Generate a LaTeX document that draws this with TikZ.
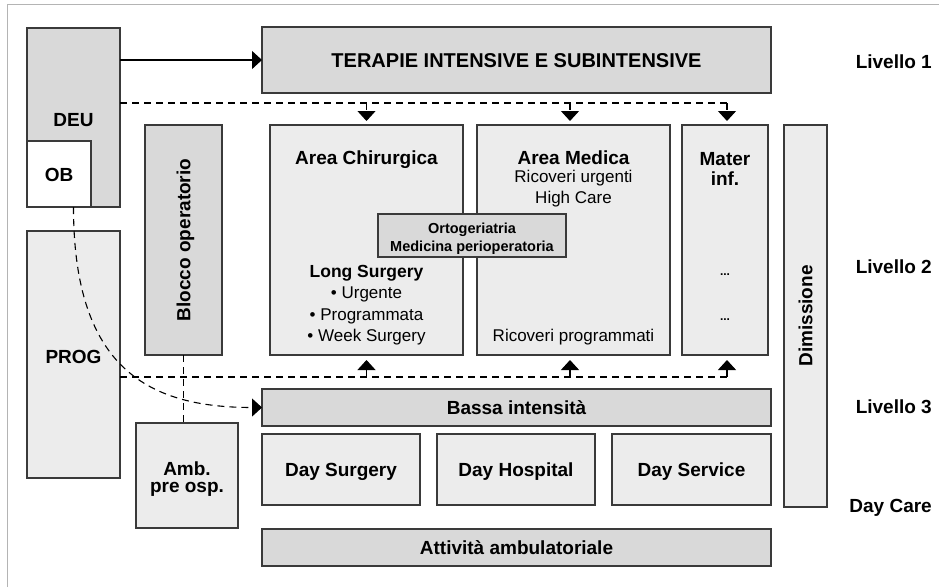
\documentclass[tikz,border=0pt]{standalone}
\usepackage{fontspec}
\setmainfont{Liberation Sans}
\usetikzlibrary{arrows.meta}
\definecolor{dk}{HTML}{D9D9D9}
\definecolor{lt}{HTML}{ECECEC}
\definecolor{ln}{HTML}{3A3A3A}
\definecolor{fr}{HTML}{B4B4B4}
\begin{document}
\begin{tikzpicture}[x=1pt,y=-1pt,
  box/.style={draw=ln,line width=1.2pt,inner sep=0pt,outer sep=0pt,anchor=north west},
  bl/.style={font=\fontsize{19}{22}\selectfont\bfseries,inner sep=0pt},
  bls/.style={font=\fontsize{17.5}{20}\selectfont\bfseries,inner sep=0pt},
  rl/.style={font=\fontsize{17}{20}\selectfont,inner sep=0pt},
  ol/.style={font=\fontsize{14.5}{17}\selectfont\bfseries,inner sep=0pt},
  ctr/.style={text height=13.6pt,text depth=0pt},
  dsh/.style={draw=black,line width=1.1pt,dash pattern=on 7pt off 5pt},
  tip/.style={-{Triangle[width=18pt,length=10pt]}},
  sol/.style={draw=black,line width=1.1pt}]
\useasboundingbox (0,0) rectangle (939,587);
\draw[fr,line width=1pt] (7,587) -- (7,4) -- (939,4);
% boxes
\node[box,fill=dk,minimum width=93pt,minimum height=179pt] (deu) at (27,28) {};
\node[box,fill=white,minimum width=64pt,minimum height=66pt] (ob) at (27,141) {};
\node[box,fill=lt,minimum width=93pt,minimum height=247pt] (prog) at (27,231) {};
\node[box,fill=dk,minimum width=77pt,minimum height=230pt] (blocco) at (145,125) {};
\node[box,fill=lt,minimum width=102pt,minimum height=105pt] (amb) at (136,423) {};
\node[box,fill=dk,minimum width=509pt,minimum height=66pt] (ter) at (262,27) {};
\node[box,fill=lt,minimum width=193pt,minimum height=230pt] (ac) at (270,125) {};
\node[box,fill=lt,minimum width=193pt,minimum height=230pt] (am) at (477,125) {};
\node[box,fill=lt,minimum width=86pt,minimum height=230pt] (mi) at (682,125) {};
\node[box,fill=lt,minimum width=43pt,minimum height=382pt] (dim) at (784,125) {};
\node[box,fill=dk,minimum width=188pt,minimum height=43pt] (orto) at (378,214) {};
\node[box,fill=dk,minimum width=509pt,minimum height=37pt] (bassa) at (262,389) {};
\node[box,fill=lt,minimum width=158pt,minimum height=71pt] (ds) at (262,434) {};
\node[box,fill=lt,minimum width=158pt,minimum height=71pt] (dh) at (437,434) {};
\node[box,fill=lt,minimum width=159pt,minimum height=71pt] (dsv) at (612,434) {};
\node[box,fill=dk,minimum width=509pt,minimum height=37pt] (att) at (262,529) {};
% labels
\node[bl,anchor=base] (tdeu) at (73.5,126) {DEU};
\node[bl,anchor=base] (tob) at (59,181.7) {OB};
\node[bl,anchor=base] (tprog) at (73.5,363) {PROG};
\node[bl,ctr,rotate=90] (tblocco) at (blocco.center) {Blocco operatorio};
\node[bl,ctr,rotate=90] (tdim) at (dim.center) {Dimissione};
\node[font=\fontsize{20}{22}\selectfont\bfseries,inner sep=0pt,text height=14.3pt,text depth=0pt] (tter) at (ter.center) {TERAPIE INTENSIVE E SUBINTENSIVE};
\node[bl,anchor=base] (tac) at (366.5,164) {Area Chirurgica};
\node[bls,anchor=base] (tls) at (366.5,277) {Long Surgery};
\node[rl,anchor=base] (tu) at (366.5,298) {• Urgente};
\node[rl,anchor=base] (tp) at (366.5,320) {• Programmata};
\node[rl,anchor=base] (tw) at (366.5,341.5) {• Week Surgery};
\node[bl,anchor=base] (tam) at (573.5,164) {Area Medica};
\node[rl,anchor=base] (tru) at (573.5,182) {Ricoveri urgenti};
\node[rl,anchor=base] (thc) at (573.5,203) {High Care};
\node[rl,anchor=base] (trp) at (573.5,341.5) {Ricoveri programmati};
\node[ol,anchor=base] (to1) at (472,233) {Ortogeriatria};
\node[ol,anchor=base] (to2) at (472,251.5) {Medicina perioperatoria};
\node[bl,anchor=base] (tm1) at (725,165) {Mater};
\node[bl,anchor=base] (tm2) at (725,185) {inf.};
\node[font=\fontsize{12}{14}\selectfont\bfseries,inner sep=0pt,anchor=base] (td1) at (725,275) {...};
\node[font=\fontsize{12}{14}\selectfont\bfseries,inner sep=0pt,anchor=base] (td2) at (725,320) {...};
\node[bl,ctr] (tbassa) at (bassa.center) {Bassa intensità};
\node[bl,ctr] (tds) at (ds.center) {Day Surgery};
\node[bl,ctr] (tdh) at (dh.center) {Day Hospital};
\node[bl,ctr] (tdsv) at (dsv.center) {Day Service};
\node[bl,ctr] (tatt) at (att.center) {Attività ambulatoriale};
\node[bl,anchor=base,text depth=0pt] (tamb1) at (187,475) {Amb.};
\node[bl,anchor=base,text height=10pt] (tamb2) at (187,492.5) {pre osp.};
\node[bl,anchor=base east] (l1) at (932,68) {Livello 1};
\node[bl,anchor=base east] (l2) at (932,273) {Livello 2};
\node[bl,anchor=base east] (l3) at (932,413) {Livello 3};
\node[bl,anchor=base east] (l4) at (932,512) {Day Care};
% connectors
\draw[sol,tip] (ter.west -| deu.east) -- (ter.west);
\coordinate (a1) at (366.5,103);
\coordinate (a2) at (570,103);
\coordinate (a3) at (727,103);
\coordinate (b1) at (366.5,377);
\coordinate (b2) at (570,377);
\coordinate (b3) at (727,377);
\draw[dsh] (a1 -| deu.east) -- (a3);
\draw[dsh,tip,shorten >=4pt] (a1) -- (a1 |- ac.north);
\draw[dsh,tip,shorten >=4pt] (a2) -- (a2 |- am.north);
\draw[dsh,tip,shorten >=4pt] (a3) -- (a3 |- mi.north);
\draw[dsh] (b1 -| prog.east) -- (b3);
\draw[dsh,tip,shorten >=5pt] (b1) -- (b1 |- ac.south);
\draw[dsh,tip,shorten >=5pt] (b2) -- (b2 |- am.south);
\draw[dsh,tip,shorten >=5pt] (b3) -- (b3 |- mi.south);
\draw[dsh] (blocco.south) -- (blocco.south |- amb.north);
\draw[dsh,tip] (deu.south) .. controls +(0,163) and +(-112,0) .. (bassa.west);
\end{tikzpicture}
\end{document}
